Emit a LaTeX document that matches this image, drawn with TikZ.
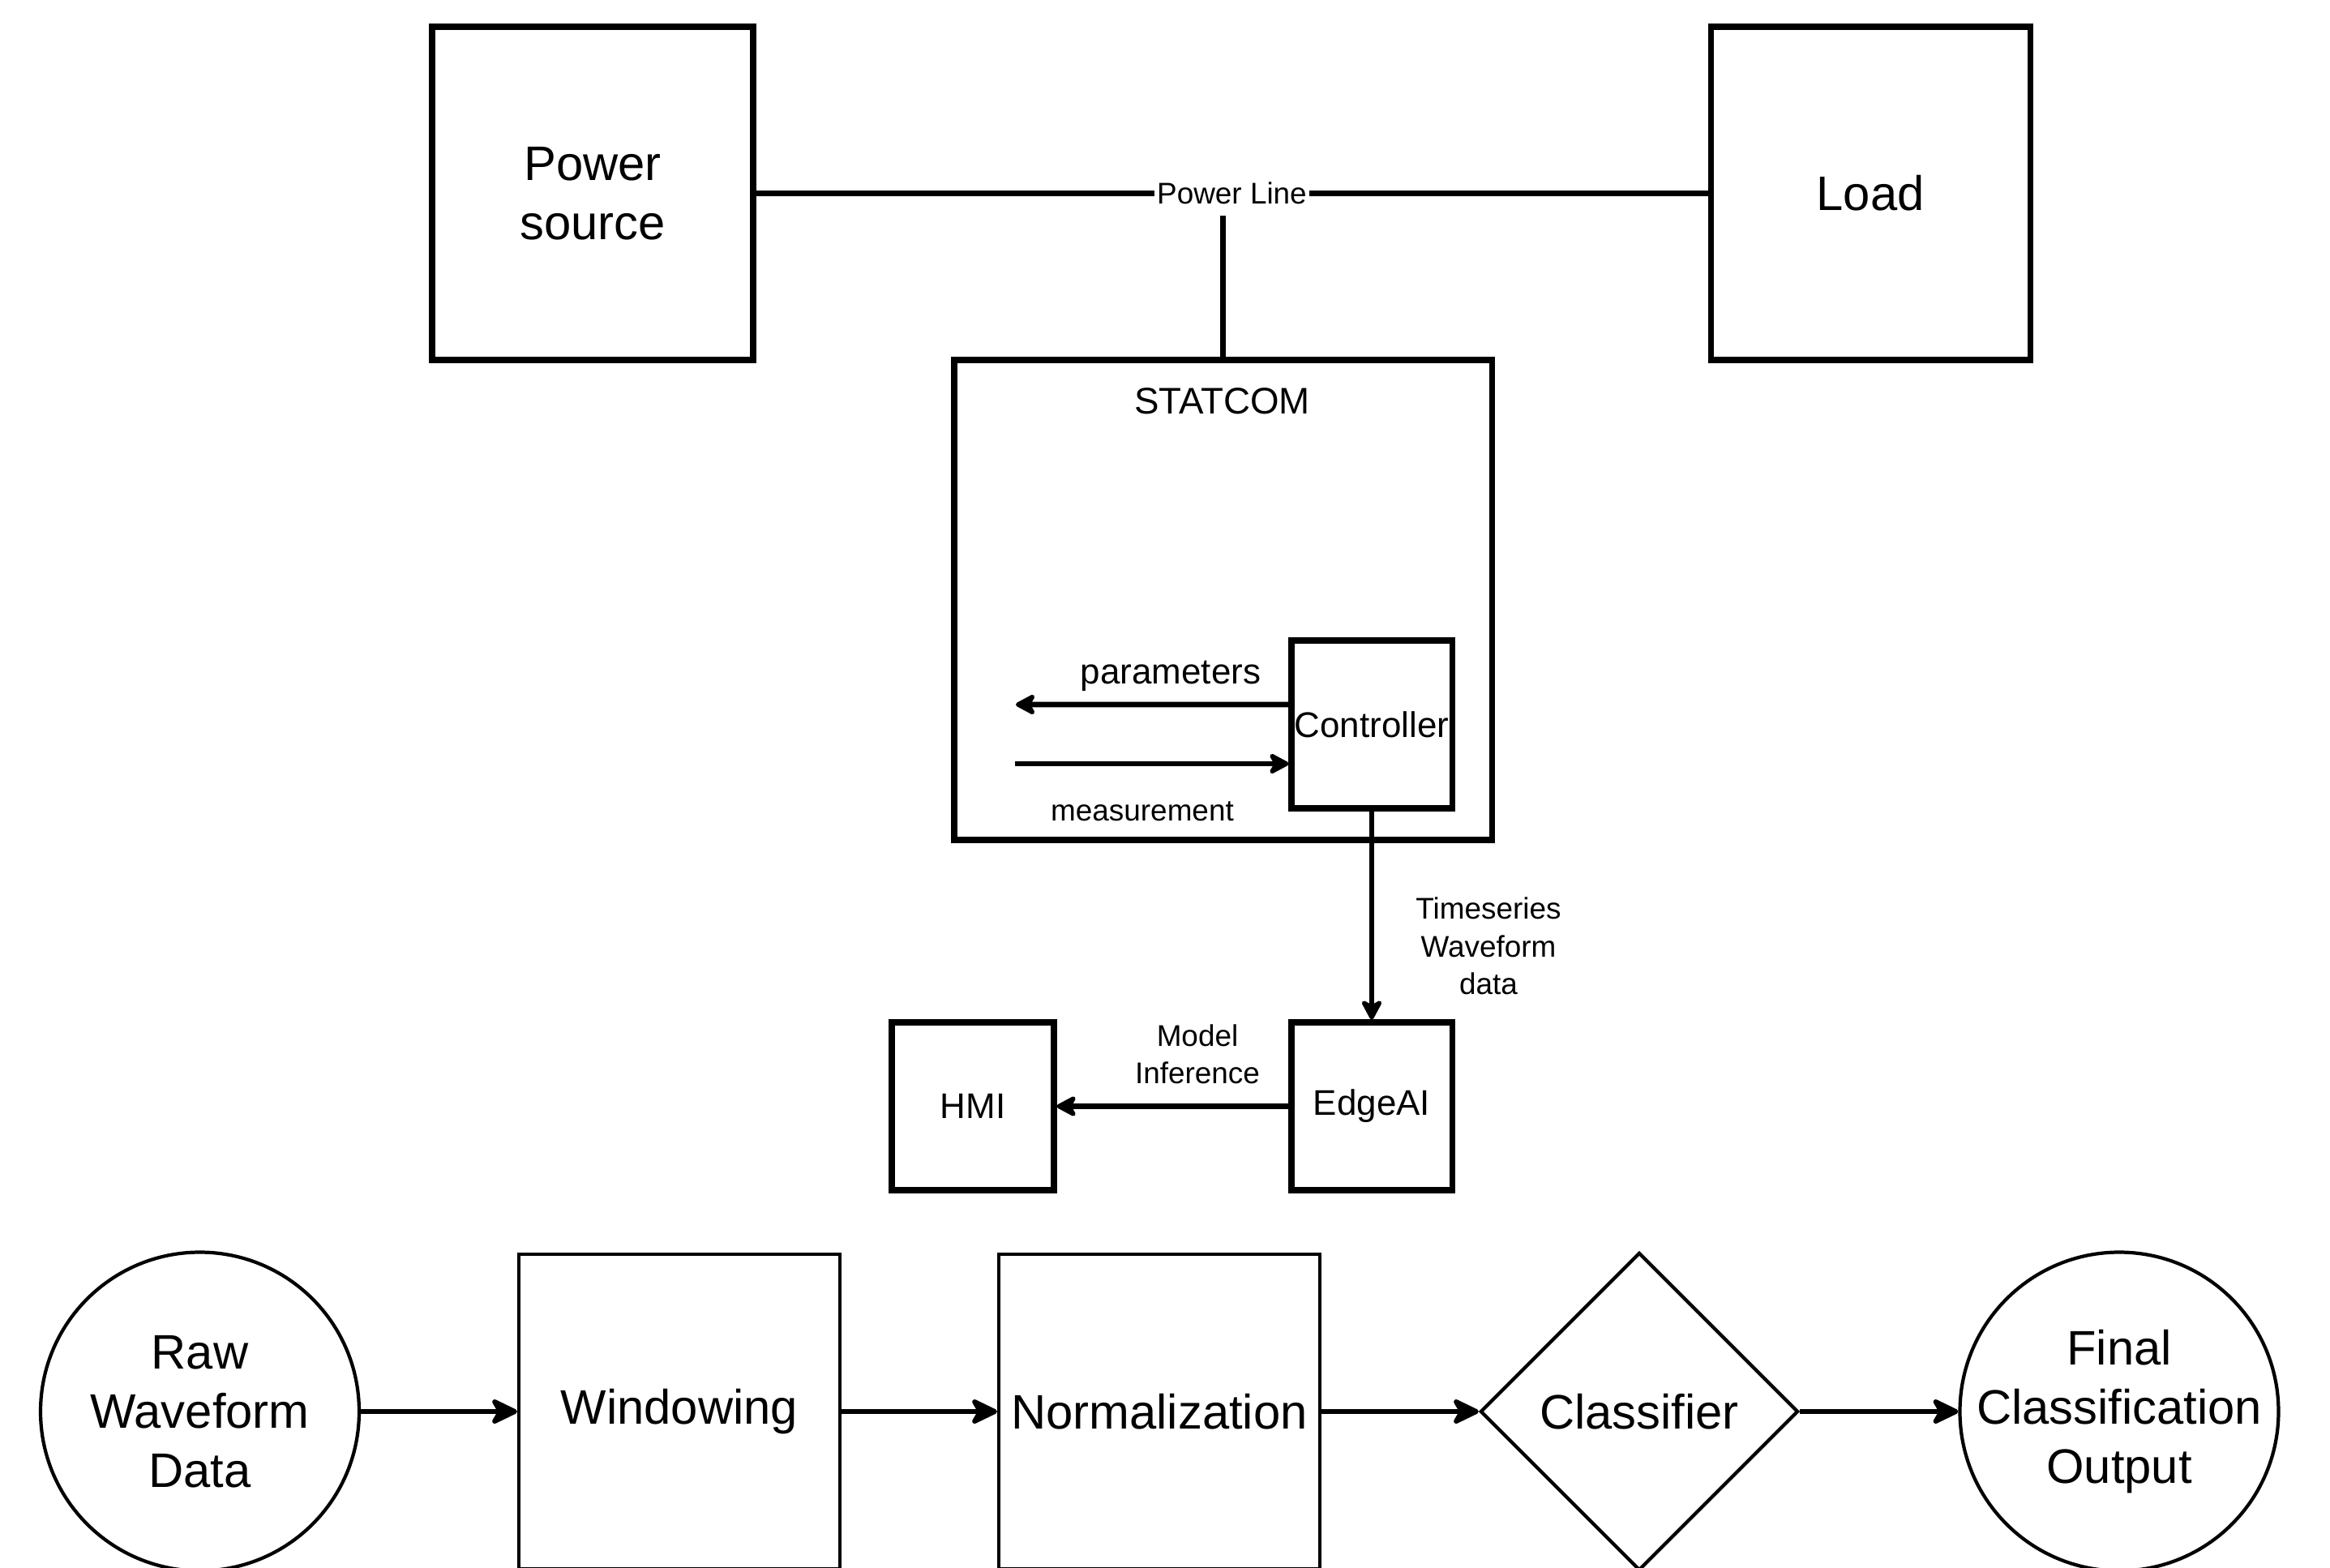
\documentclass[tikz,border=0pt]{standalone}
\usepackage{fontspec}
\setmainfont{Liberation Sans}
\usetikzlibrary{arrows.meta, positioning, shapes.geometric}
\newcommand\BigText{\fontsize{17}{20.8}\selectfont}
\newcommand\MidText{\fontsize{12.5}{15}\selectfont}
\newcommand\SmallText{\fontsize{10.5}{13.2}\selectfont}

\begin{document}
\begin{tikzpicture}[
box/.style={
  draw, rectangle, line width=2pt,
  inner sep=0pt, align=center
},
flowbox/.style={
  draw, rectangle, line width=1.2pt,
  inner sep=0pt, align=center, font=\BigText,
  minimum width=3.96cm, minimum height=3.88cm
},
flowcirc/.style={
  draw, circle, line width=1.2pt,
  inner sep=-3mm, align=center, font=\BigText,
  minimum size=3.93cm
},
flowdiam/.style={
  draw, diamond, line width=1.2pt,
  inner sep=0pt, align=center, font=\BigText,
  minimum width=3.92cm, minimum height=3.92cm
},
arr/.style={-{Stealth[length=8.5pt,width=9pt,inset=2.5pt,round]}, line width=1.9pt},
flowarr/.style={-{Stealth[length=11pt,width=10.5pt,inset=3pt,round]}, line width=1.7pt}
]
\useasboundingbox (0,0) rectangle (28.74,-19.34);

% power side
\node (src) [box, minimum width=3.96cm, minimum height=4.11cm, font=\BigText] at (7.31,-2.385) {Power\\source};
\node (load) [box, minimum width=3.94cm, minimum height=4.11cm, font=\BigText] at (23.07,-2.385) {Load};
\draw[line width=2pt] (src.east) -- node (pl) [fill=white, inner sep=1pt, font=\SmallText] {Power Line} (load.west);

% statcom
\node (statcom) [box, minimum width=6.63cm, minimum height=5.92cm] at (15.085,-7.40) {};
\node (statlbl) [anchor=base, font=\fontsize{13}{15}\selectfont] at (15.075,-5.10) {STATCOM};
\draw[line width=2pt] (statcom.north) -- ([yshift=-2pt]statcom.north |- pl.south);
\node (ctrl) [box, minimum width=1.98cm, minimum height=2.07cm, font=\MidText] at (16.92,-8.935) {Controller};

\coordinate (parend) at (12.53,-8.69);
\coordinate (measstart) at (12.52,-9.42);
\draw[arr] ([yshift=2.45mm]ctrl.west) -- (parend);
\node (parlbl) [anchor=base, font=\MidText] at (14.44,-8.43) {parameters};
\draw[arr] (measstart) -- ([yshift=-4.85mm]ctrl.west);
\node (measlbl) [anchor=base, font=\SmallText] at (14.09,-10.12) {measurement};

% edge device
\node (edge) [box, minimum width=1.98cm, minimum height=2.07cm, font=\MidText] at (16.92,-13.645) {EdgeAI};
\node (hmi) [box, minimum width=2.00cm, minimum height=2.07cm, font=\MidText] at (12.00,-13.645) {HMI};
\draw[arr] (ctrl) -- (edge);
\node (tslbl) [font=\SmallText, align=center] at (18.36,-11.67) {Timeseries\\Waveform\\data};
\draw[arr] (edge) -- (hmi);
\node (milbl) [font=\SmallText, align=center] at (14.77,-13.0) {Model\\Inference};

% pipeline
\node (raw) [flowcirc] at (2.465,-17.41) {Raw\\Waveform\\Data};
\node (win) [flowbox] at (8.38,-17.41) {Windowing};
\node (norm) [flowbox] at (14.30,-17.41) {Normalization};
\node (clf) [flowdiam] at (20.22,-17.41) {Classifier};
\node (fin) [flowcirc] at (26.14,-17.41) {Final\\Classification\\Output};
\draw[flowarr] (raw) -- (win);
\draw[flowarr] (win) -- (norm);
\draw[flowarr] (norm) -- (clf);
\draw[flowarr] (clf) -- (fin);
\end{tikzpicture}
\end{document}
